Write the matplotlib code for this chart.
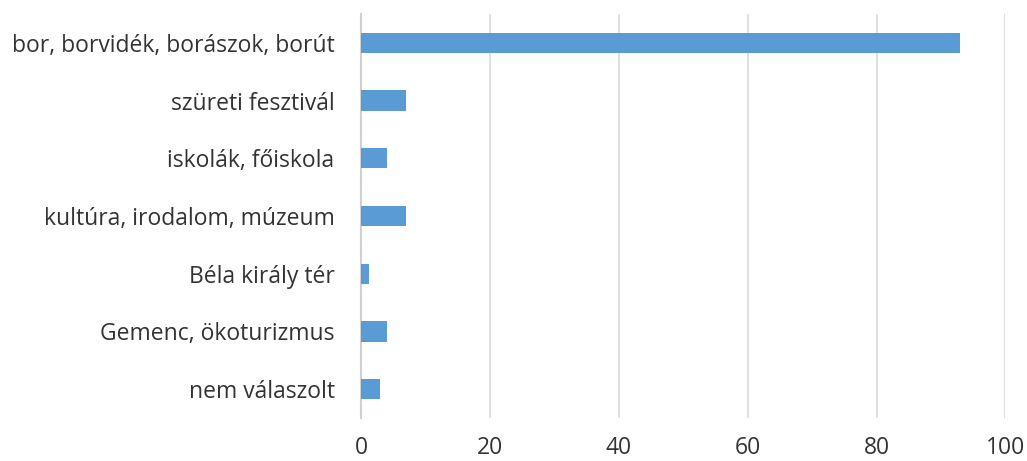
import matplotlib.pyplot as plt

# Data (top to bottom as shown)
categories = ['bor, borvidék, borászok, borút', 'szüreti fesztivál', 'iskolák, főiskola',
              'kultúra, irodalom, múzeum', 'Béla király tér', 'Gemenc, ökoturizmus', 'nem válaszolt']
values = [93, 7, 4, 7, 1.2, 4, 3]
xticks = [0, 20, 40, 60, 80, 100]

plt.rcParams['font.family'] = ['Open Sans', 'DejaVu Sans']

fig = plt.figure(figsize=(10.27, 4.61), dpi=100)
ax = fig.add_axes([0.3515, 0.0933, 0.6275, 0.8763])

pos = list(range(len(categories)))[::-1]
ax.barh(pos, values, height=0.35, color='#5B9BD5', zorder=3)

ax.set_xlim(0, 100)
ax.set_ylim(-0.5, len(categories) - 0.5)
ax.set_xticks(xticks)
ax.set_xticklabels([str(t) for t in xticks], fontsize=16.5, color='#333333')
ax.set_yticks(pos)
ax.set_yticklabels(categories, fontsize=16.5, color='#333333')
ax.tick_params(axis='both', length=0)
ax.tick_params(axis='x', pad=13)
ax.tick_params(axis='y', pad=19)

ax.grid(axis='x', color='#D9D9D9', linewidth=1.2, zorder=0)
for s in ['top', 'right', 'bottom']:
    ax.spines[s].set_visible(False)
ax.spines['left'].set_color('#D0D0D0')
ax.spines['left'].set_linewidth(1.5)

fig.savefig('out.png', dpi=100)
